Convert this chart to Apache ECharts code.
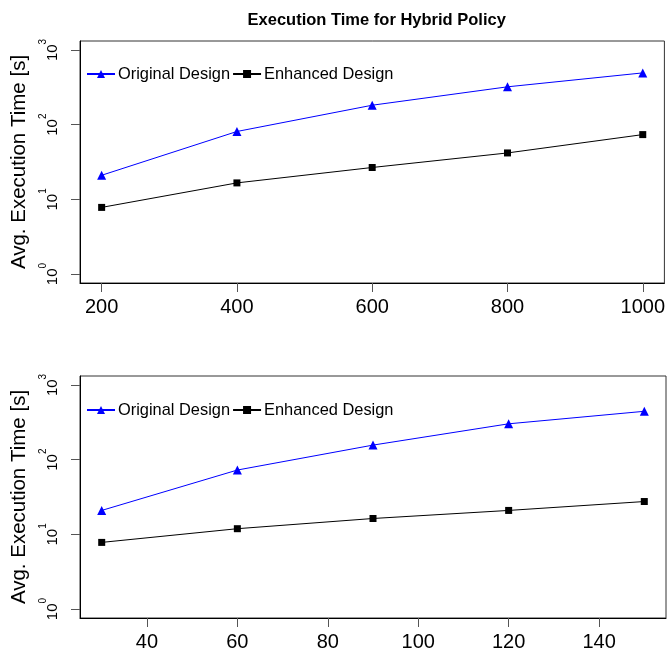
<!DOCTYPE html>
<html>
<head>
<meta charset="utf-8">
<script src="https://cdn.jsdelivr.net/npm/echarts@6/dist/echarts.min.js"></script>
<style>
html,body{margin:0;padding:0;background:#fff;}
#c{width:668px;height:654px;}
</style>
</head>
<body>
<div id="c"></div>
<script>
const titleText = 'Execution Time for Hybrid Policy';
const yName = 'Avg. Execution Time [s]';
const seriesNames = ['Original Design', 'Enhanced Design'];

const xTop = [200, 400, 600, 800, 1000];
const origTop = [21, 81, 182, 321, 493];
const enhTop = [7.8, 16.6, 26.7, 41.8, 73.6];

const xBot = [30, 60, 90, 120, 150];
const origBot = [20.9, 72.6, 156.6, 302, 444];
const enhBot = [7.8, 11.9, 16.3, 20.9, 27.5];

const yTicks = [1, 10, 100, 1000];
const xTicksTop = [200, 400, 600, 800, 1000];
const xTicksBot = [40, 60, 80, 100, 120, 140];

const FONT = '"Liberation Sans", Arial, Helvetica, sans-serif';
const yMin = Math.pow(10, -0.12), yMax = Math.pow(10, 3.12);

function pairs(xs, ys) { return xs.map((x, i) => [x, ys[i]]); }

function xAxisCfg(gi, min, max, ticks) {
  return {
    type: 'value', gridIndex: gi, min: min, max: max,
    axisLine: { show: true, lineStyle: { color: '#000', width: 1 } },
    axisTick: { show: true, length: 9, customValues: ticks, lineStyle: { color: '#555' } },
    axisLabel: {
      customValues: ticks, fontSize: 20, fontFamily: FONT, color: '#000', margin: 14,
      formatter: function (v) { return String(v); }
    },
    splitLine: { show: false }
  };
}
function yAxisCfg(gi) {
  return {
    type: 'log', logBase: 10, gridIndex: gi, min: yMin, max: yMax,
    name: yName, nameLocation: 'middle', nameGap: 50,
    nameTextStyle: { fontSize: 20.5, fontFamily: FONT, color: '#000' },
    axisLine: { show: true, lineStyle: { color: '#000', width: 1 } },
    axisTick: { show: true, length: 9, customValues: yTicks, lineStyle: { color: '#555' } },
    axisLabel: {
      customValues: yTicks, rotate: 90, margin: 20, color: '#000',
      formatter: function (v) { return '{b|10}{s|' + Math.round(Math.log10(v)) + '}'; },
      rich: {
        b: { fontSize: 15, fontFamily: FONT, color: '#000', lineHeight: 22, verticalAlign: 'bottom' },
        s: { fontSize: 10, fontFamily: FONT, color: '#000', lineHeight: 10, verticalAlign: 'top' }
      }
    },
    splitLine: { show: false }
  };
}
function lineSeries(name, gi, data, color, symbol, size) {
  return {
    name: name, type: 'line', xAxisIndex: gi, yAxisIndex: gi, data: data,
    symbol: symbol, symbolSize: size, showSymbol: true,
    lineStyle: { color: color, width: 1 }, itemStyle: { color: color },
    emphasis: { disabled: true }, animation: false
  };
}
function legendCfg(top) {
  return {
    left: 81, top: top, orient: 'horizontal', itemWidth: 28, itemHeight: 10, itemGap: 2,
    textStyle: { fontSize: 16.4, fontFamily: FONT, color: '#000', padding: [0, 0, 0, -2] },
    data: seriesNames, selectedMode: false
  };
}

const chart = echarts.init(document.getElementById('c'), null, { renderer: 'canvas' });
chart.setOption({
  backgroundColor: '#fff',
  animation: false,
  title: {
    text: titleText, left: 371.7, top: 7, textAlign: 'center',
    textStyle: { fontSize: 16.5, fontWeight: 'bold', fontFamily: FONT, color: '#000' }
  },
  legend: [legendCfg(61), legendCfg(397)],
  grid: [
    { left: 80, top: 41, width: 586, height: 242, show: true, borderColor: '#333', borderWidth: 1, backgroundColor: 'transparent' },
    { left: 80, top: 376, width: 586, height: 242, show: true, borderColor: '#333', borderWidth: 1, backgroundColor: 'transparent' }
  ],
  xAxis: [xAxisCfg(0, 168, 1032, xTicksTop), xAxisCfg(1, 25.2, 154.8, xTicksBot)],
  yAxis: [yAxisCfg(0), yAxisCfg(1)],
  series: [
    lineSeries(seriesNames[0], 0, pairs(xTop, origTop), '#0000ff', 'triangle', 9),
    lineSeries(seriesNames[1], 0, pairs(xTop, enhTop), '#000000', 'rect', 7),
    lineSeries(seriesNames[0], 1, pairs(xBot, origBot), '#0000ff', 'triangle', 9),
    lineSeries(seriesNames[1], 1, pairs(xBot, enhBot), '#000000', 'rect', 7)
  ]
});
</script>
</body>
</html>
